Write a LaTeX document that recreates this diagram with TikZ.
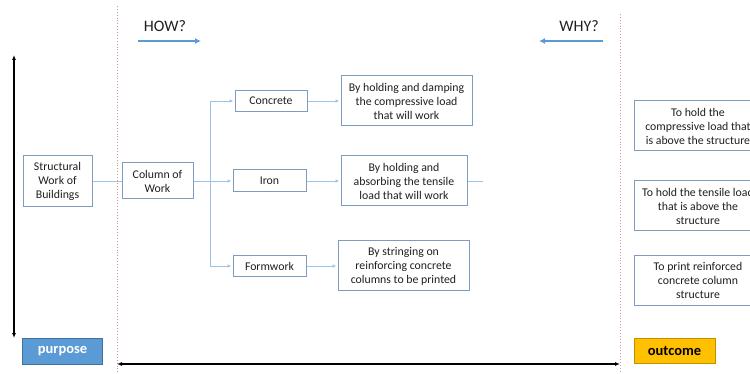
\documentclass[tikz,border=0pt]{standalone}
\usepackage{fontspec}
\setmainfont{Carlito}
\usetikzlibrary{arrows.meta}
\definecolor{boxline}{HTML}{7F9CBF}
\definecolor{conn}{HTML}{9DC3E6}
\definecolor{headblue}{HTML}{5B9BD5}
\definecolor{purpfill}{HTML}{5B9BD5}
\definecolor{purpline}{HTML}{41719C}
\definecolor{outfill}{HTML}{FFC000}
\definecolor{outline}{HTML}{BF9000}
\definecolor{divider}{HTML}{D49A9A}
\definecolor{txt}{HTML}{1F1F1F}
\begin{document}
\begin{tikzpicture}[x=1pt,y=-1pt,
  box/.style={draw=boxline,line width=1pt,fill=white,align=center,inner sep=1pt,
    font=\fontsize{11.8}{14}\selectfont,text=txt},
  link/.style={draw=conn,line width=0.8pt},
  linkarrow/.style={link,-{Latex[length=4pt,width=3.5pt]},shorten >=1pt},
  bigarrow/.style={draw=black,line width=1.5pt,{Latex[length=5pt,width=4pt]}-{Latex[length=5pt,width=4pt]}},
  dirarrow/.style={draw=headblue,line width=2pt,-{Latex[length=6pt,width=6pt]}},
  divline/.style={draw=divider,line width=0.9pt,dotted}]
\clip (0,0) rectangle (750,374);
\useasboundingbox (0,0) rectangle (750,374);

% dividers between the three columns
\draw[divline] (117,6) -- (117,374);
\draw[divline] (620,14) -- (620,374);

% direction headings
\node[font=\fontsize{16}{18}\selectfont,text=txt] (how) at (165,26) {HOW?};
\node[font=\fontsize{16}{18}\selectfont,text=txt] (why) at (579,26) {WHY?};
\coordinate (howA) at (138,41);
\coordinate (howB) at (201,41);
\coordinate (whyA) at (603,41);
\coordinate (whyB) at (539,41);
\draw[dirarrow] (howA) -- (howB);
\draw[dirarrow] (whyA) -- (whyB);

% axes
\coordinate (vtop) at (14,55);
\coordinate (vbot) at (14,338);
\draw[bigarrow] (vtop) -- (vbot);
\coordinate (hl) at (117,364);
\coordinate (hr) at (620,364);
\draw[bigarrow] (hl) -- (hr);

% main boxes
\node[box,minimum width=69pt,minimum height=51pt] (struct) at (57.5,181) {Structural\\Work of\\Buildings};
\node[box,minimum width=71pt,minimum height=36pt] (column) at (157.5,181) {Column of\\Work};
\node[box,minimum width=72pt,minimum height=21pt] (concrete) at (271,101) {Concrete};
\node[box,minimum width=73pt,minimum height=22pt] (iron) at (269.5,181) {Iron};
\node[box,minimum width=73pt,minimum height=21pt] (formwork) at (269.5,266) {Formwork};

\node[box,minimum width=131pt,minimum height=50pt] (d1) at (406.5,101) {By holding and damping\\the compressive load\\that will work};
\node[box,minimum width=126pt,minimum height=50pt] (d2) at (404,181) {By holding and\\absorbing the tensile\\load that will work};
\node[box,minimum width=131pt,minimum height=50pt] (d3) at (403.5,266) {By stringing on\\reinforcing concrete\\columns to be printed};

\node[box,minimum width=128pt,minimum height=50pt] (r1) at (698,126) {To hold the\\compressive load that\\is above the structure};
\node[box,minimum width=128pt,minimum height=50pt] (r2) at (698,206) {To hold the tensile load\\that is above the\\structure};
\node[box,minimum width=128pt,minimum height=49pt] (r3) at (698,280.5) {To print reinforced\\concrete column\\structure};

% labels at the foot of the outer columns
\node[draw=purpline,fill=purpfill,line width=0.8pt,minimum width=80pt,minimum height=26pt,
  text=white,font=\fontsize{14.5}{16}\selectfont\bfseries] (purpose) at (62.5,351) {purpose};
\node[draw=outline,fill=outfill,line width=0.8pt,minimum width=81pt,minimum height=25pt,
  text=black,font=\fontsize{14.5}{16}\selectfont\bfseries] (outcome) at (674.5,350.5) {outcome};

% connectors
\coordinate (br) at (210,181);
\draw[link] (struct) -- (column);
\draw[link] (column) -- (br);
\draw[linkarrow] (br) -- (iron);
\draw[linkarrow] (br) |- (concrete);
\draw[linkarrow] (br) |- (formwork);
\draw[linkarrow] (concrete) -- (d1);
\draw[linkarrow] (iron) -- (d2);
\draw[linkarrow] (formwork) -- (d3);
\coordinate (stub) at (483,181);
\draw[link] (d2) -- (stub);
\end{tikzpicture}
\end{document}
